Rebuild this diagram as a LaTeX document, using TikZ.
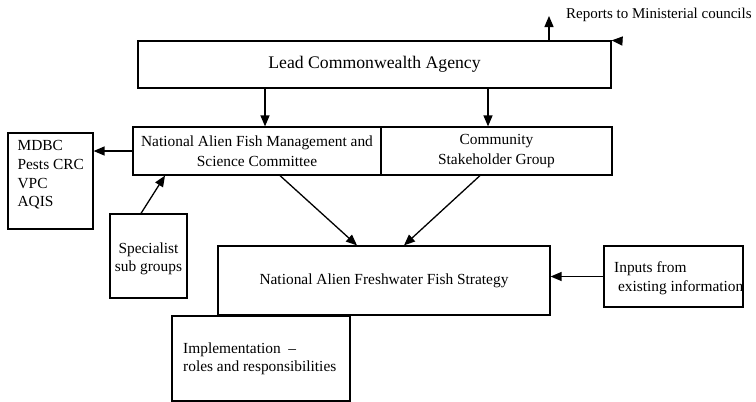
\documentclass[tikz,border=0pt]{standalone}
\usepackage{fontspec}
\setmainfont{Liberation Serif}
\usetikzlibrary{arrows.meta}
\begin{document}
\begin{tikzpicture}[x=1pt,y=-1pt,
  box/.style={draw,line width=1.2pt,rectangle,inner sep=0pt},
  arr/.style={line width=1.3pt,-{Triangle[length=11pt,width=9pt]}},
  txt/.style={font=\fontsize{15.4}{19.5}\selectfont,inner sep=0pt,align=center}]
\useasboundingbox (0,0) rectangle (756,402);
\node[box,minimum width=473pt,minimum height=47pt,font=\fontsize{17.7}{20}\selectfont] (lead) at (374.5,64.5) {Lead Commonwealth Agency};
\node[box,minimum width=248pt,minimum height=48pt,txt] (naf) at (257,151) {National Alien Fish Management and\\Science Committee};
\node[box,minimum width=231pt,minimum height=48pt,txt] (comm) at (496.5,151) {Community\\Stakeholder Group};
\node[box,minimum width=85pt,minimum height=96pt] (mdbc) at (50.5,181) {};
\node[txt,align=left,anchor=north west,font=\fontsize{15.4}{18.7}\selectfont] (mdbct) at ([shift={(10pt,-8pt)}]mdbc.north west) {MDBC\\Pests CRC\\VPC\\AQIS};
\node[box,minimum width=77pt,minimum height=84pt,txt,font=\fontsize{15.4}{18}\selectfont] (spec) at (148.5,256) {};
\node[txt,font=\fontsize{15.4}{18}\selectfont] (spect) at (148.5,259) {Specialist\\sub groups};
\node[box,minimum width=332pt,minimum height=69pt,txt] (strat) at (384,280.5) {National Alien Freshwater Fish Strategy};
\node[box,minimum width=139pt,minimum height=61pt] (inp) at (673.5,276.5) {};
\node[txt,align=left,anchor=west] (inpt) at (614,278) {Inputs from\\\ existing information};
\node[box,minimum width=178pt,minimum height=85pt] (impl) at (261,358.5) {};
\node[txt,align=left,anchor=west,font=\fontsize{15.4}{18}\selectfont] (implt) at (183,359) {Implementation \ --\\roles and responsibilities};
\node[txt,anchor=west,font=\fontsize{15}{16}\selectfont] (rep) at (566,15) {Reports to Ministerial councils};
\coordinate (up) at (549,16);
\coordinate (rin) at (622,41);
\draw[arr] (549,0 |- lead.north) -- (up);
\draw[arr] (rin) -- (lead.north east);
\draw[arr] (265,0 |- lead.south) -- (265,0 |- naf.north);
\draw[arr] (488,0 |- lead.south) -- (488,0 |- comm.north);
\draw[arr] (naf.west) -- (naf.west -| mdbc.east);
\draw[arr] (141,0 |- spec.north) -- (165,0 |- naf.south);
\draw[arr] (280,0 |- naf.south) -- (357,0 |- strat.north);
\draw[arr] (480,0 |- comm.south) -- (404,0 |- strat.north);
\draw[arr] (inp.west) -- (inp.west -| strat.east);
\draw[box] (inp.north west) rectangle (inp.south east);
\end{tikzpicture}
\end{document}
